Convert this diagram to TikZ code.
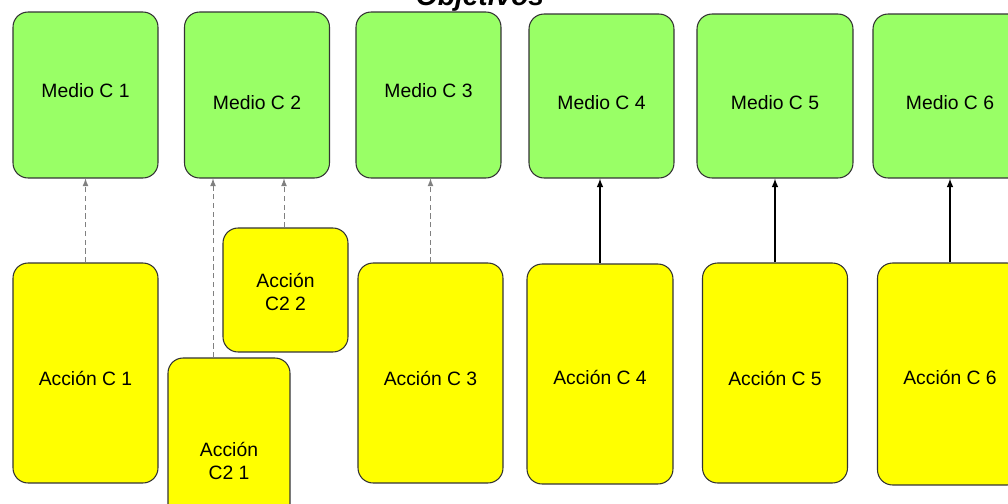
\documentclass[tikz,border=0pt]{standalone}
\usepackage{fontspec}
\setmainfont{Liberation Sans}
\usetikzlibrary{positioning}
\usetikzlibrary{shapes,arrows}

\definecolor{mediogreen}{HTML}{99FF66}
\definecolor{accionyellow}{HTML}{FFFF00}
\definecolor{boxline}{HTML}{333333}

\tikzset{
	medio/.style={draw=boxline, fill=mediogreen, rounded corners=0.3cm, line width=0.6pt,
		minimum width=2.9cm, minimum height=3.32cm, align=center, font=\fontsize{11}{13}\selectfont},
	accion/.style={draw=boxline, fill=accionyellow, rounded corners=0.3cm, line width=0.6pt,
		minimum width=2.9cm, minimum height=4.4cm, align=center, font=\fontsize{11}{13}\selectfont},
	textup/.style={text height=8pt, text depth=#1},
	textdown/.style={text height=#1, text depth=0pt},
	weak/.style={draw=black!50, densely dashed, line width=0.5pt},
	strong/.style={draw=black, line width=0.7pt}
}

\begin{document}
\begin{tikzpicture}[x=0.02cm, y=-0.02cm, >=latex]
	\useasboundingbox (0,0) rectangle (1008,504);

	\node (title) [anchor=base, font=\fontsize{16}{18}\selectfont\bfseries\itshape] at (480,5) {Objetivos};

	\node[medio, textup=4.6pt] (m1) at (85.5,95) {Medio C 1};
	\node[medio, textdown=17pt] (m2) at (257,95) {Medio C 2};
	\node[medio, textup=4.6pt] (m3) at (428.5,95) {Medio C 3};
	\node[medio, textdown=14.8pt, minimum height=3.28cm] (m4) at (601.5,96) {Medio C 4};
	\node[medio, textdown=14.8pt, minimum height=3.28cm, minimum width=3.12cm] (m5) at (775,96) {Medio C 5};
	\node[medio, textdown=14.8pt, minimum height=3.28cm, minimum width=3.08cm] (m6) at (950,96) {Medio C 6};

	\node[accion, textdown=13.7pt] (a1) at (85.5,373) {Acción C 1};
	\node[accion, minimum width=2.5cm, minimum height=2.48cm] (a22) at (285.5,290) {\\[-3pt]Acción\\C2 2};
	\node[accion, minimum width=2.44cm, minimum height=4.12cm] (a21) at (229,461) {Acción\\C2 1};
	\node[accion, textdown=13.7pt] (a3) at (430.5,373) {Acción C 3};
	\node[accion, textdown=12.5pt, minimum width=2.92cm] (a4) at (600,374) {Acción C 4};
	\node[accion, textdown=13.7pt] (a5) at (775,373) {Acción C 5};
	\node[accion, textdown=12.5pt, minimum height=4.44cm] (a6) at (950,374) {Acción C 6};

	\path[weak, ->] (a1) -- (m1);
	\path[weak, ->] ([xshift=-0.32cm]a21.north) -- ([xshift=-0.32cm]a21.north |- m2.south);
	\path[weak, ->] ([xshift=-0.03cm]a22.north) -- ([xshift=-0.03cm]a22.north |- m2.south);
	\path[weak, ->] (a3) -- (a3 |- m3.south);

	\path[strong, ->] (a4) -- (a4 |- m4.south);
	\path[strong, ->] (a5) -- (m5);
	\path[strong, ->] (a6) -- (m6);

\end{tikzpicture}
\end{document}
